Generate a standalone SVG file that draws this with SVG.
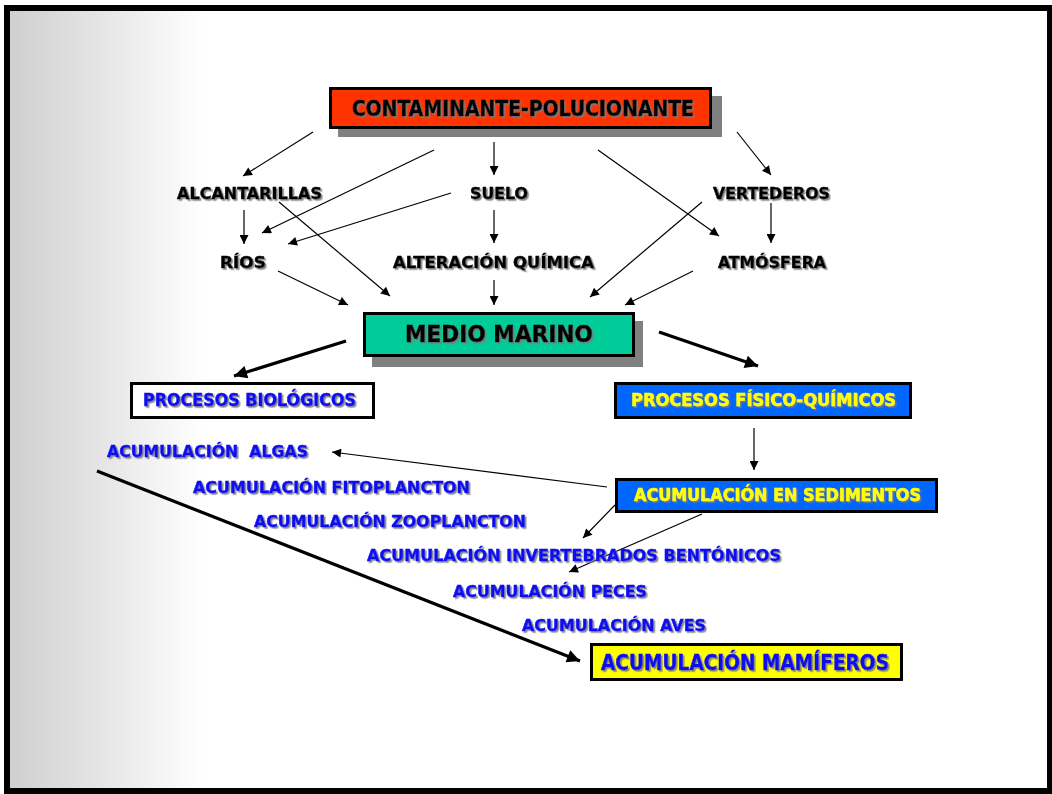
<svg xmlns="http://www.w3.org/2000/svg" width="1052" height="794" viewBox="0 0 1052 794">
<defs>
<linearGradient id="bg" gradientUnits="userSpaceOnUse" x1="10" y1="0" x2="205" y2="0">
<stop offset="0" stop-color="#cfcfcf"/>
<stop offset="1" stop-color="#ffffff"/>
</linearGradient>
<filter id="sh" x="-5%" y="-30%" width="110%" height="160%">
<feDropShadow dx="1.6" dy="1.6" stdDeviation="0.7" flood-color="#7a7a7a" flood-opacity="0.9"/>
</filter>
<marker id="a" viewBox="0 0 10 10" refX="10" refY="5" markerWidth="11" markerHeight="9" markerUnits="userSpaceOnUse" orient="auto">
<path d="M0,0 L10,5 L0,10 z" fill="#000"/>
</marker>
<marker id="b" viewBox="0 0 10 10" refX="10" refY="5" markerWidth="16" markerHeight="13" markerUnits="userSpaceOnUse" orient="auto">
<path d="M0,0 L10,5 L0,10 z" fill="#000"/>
</marker>
</defs>
<style>
.t{font-family:"DejaVu Sans Condensed","DejaVu Sans","Liberation Sans",sans-serif;font-stretch:condensed;font-weight:bold;filter:url(#sh);stroke-width:0.45}
.k{fill:#000;stroke:#000}
.bl{fill:#0a0af0;stroke:#0a0af0}
.ye{fill:#ffff00;stroke:#ffff00}
.box{stroke:#000;stroke-width:3}
.shd{fill:#808080}
.c{stroke:#000;stroke-width:1.2;fill:none;marker-end:url(#a)}
.c3{stroke:#000;stroke-width:3.2;fill:none;marker-end:url(#b)}
</style>
<rect x="10" y="11" width="1037" height="778" fill="url(#bg)"/>
<rect x="7" y="8" width="1043" height="783" fill="none" stroke="#000" stroke-width="6"/>

<g id="connectors">
<line class="c" x1="313" y1="132" x2="243" y2="176"/>
<line class="c" x1="434" y1="150" x2="262" y2="233"/>
<line class="c" x1="494" y1="142" x2="494" y2="175"/>
<line class="c" x1="598" y1="150" x2="719" y2="236"/>
<line class="c" x1="737" y1="132" x2="771" y2="175"/>
<line class="c" x1="244" y1="210" x2="244" y2="244"/>
<line class="c" x1="279" y1="202" x2="390" y2="296"/>
<line class="c" x1="451" y1="193" x2="288" y2="244"/>
<line class="c" x1="494" y1="210" x2="494" y2="243"/>
<line class="c" x1="771" y1="203" x2="771" y2="243"/>
<line class="c" x1="702" y1="202" x2="590" y2="297"/>
<line class="c" x1="278" y1="271" x2="348" y2="305"/>
<line class="c" x1="494" y1="280" x2="494" y2="305"/>
<line class="c" x1="693" y1="271" x2="625" y2="305"/>
<line class="c3" x1="346" y1="341" x2="234" y2="376"/>
<line class="c3" x1="659" y1="332" x2="758" y2="366"/>
<line class="c3" x1="97" y1="471" x2="580" y2="661" stroke-width="4"/>
<line class="c" x1="754" y1="428" x2="754" y2="470"/>
<line class="c" x1="607" y1="487" x2="332" y2="452"/>
<line class="c" x1="615" y1="505" x2="583" y2="538"/>
<line class="c" x1="702" y1="514" x2="569" y2="572"/>
</g>

<g id="contaminante">
<rect class="shd" x="338" y="96" width="384" height="41"/>
<rect class="box" x="330.5" y="88.5" width="380" height="39" fill="#ff3300"/>
<text class="t k" x="352" y="116" font-size="20.5" textLength="342" lengthAdjust="spacingAndGlyphs">CONTAMINANTE-POLUCIONANTE</text>
</g>
<g id="alcantarillas"><text class="t k" x="177" y="199" font-size="16.2" textLength="145" lengthAdjust="spacingAndGlyphs">ALCANTARILLAS</text></g>
<g id="suelo"><text class="t k" x="470" y="199" font-size="16.2" textLength="58" lengthAdjust="spacingAndGlyphs">SUELO</text></g>
<g id="vertederos"><text class="t k" x="713" y="199" font-size="16.2" textLength="117" lengthAdjust="spacingAndGlyphs">VERTEDEROS</text></g>
<g id="rios"><text class="t k" x="220" y="268" font-size="16.2" textLength="46" lengthAdjust="spacingAndGlyphs">RÍOS</text></g>
<g id="alteracion"><text class="t k" x="393" y="268" font-size="16.2" textLength="201" lengthAdjust="spacingAndGlyphs">ALTERACIÓN QUÍMICA</text></g>
<g id="atmosfera"><text class="t k" x="718" y="268" font-size="16.2" textLength="108" lengthAdjust="spacingAndGlyphs">ATMÓSFERA</text></g>

<g id="medio-marino">
<rect class="shd" x="372" y="321" width="271" height="46"/>
<rect class="box" x="364.5" y="313.5" width="269" height="42" fill="#00cc99"/>
<text class="t k" x="405" y="342" font-size="22.5" textLength="188" lengthAdjust="spacingAndGlyphs">MEDIO MARINO</text>
</g>

<g id="procesos-biologicos">
<rect class="box" x="131.5" y="383.5" width="242" height="34" fill="#ffffff"/>
<text class="t bl" x="143" y="406" font-size="17.5" textLength="213" lengthAdjust="spacingAndGlyphs">PROCESOS BIOLÓGICOS</text>
</g>

<g id="procesos-fisico-quimicos">
<rect class="box" x="615.5" y="383.5" width="295" height="34" fill="#0066ff"/>
<text class="t ye" x="631" y="406" font-size="17.5" textLength="265" lengthAdjust="spacingAndGlyphs">PROCESOS FÍSICO-QUÍMICOS</text>
</g>

<g id="sedimentos">
<rect class="box" x="616.5" y="479.5" width="320" height="32" fill="#0066ff"/>
<text class="t ye" x="634" y="501" font-size="17" textLength="287" lengthAdjust="spacingAndGlyphs">ACUMULACIÓN EN SEDIMENTOS</text>
</g>

<g id="algas"><text class="t bl" x="107" y="457" font-size="16.6" textLength="201" lengthAdjust="spacingAndGlyphs" xml:space="preserve">ACUMULACIÓN  ALGAS</text></g>
<g id="fitoplancton"><text class="t bl" x="193" y="493" font-size="16.6" textLength="277" lengthAdjust="spacingAndGlyphs">ACUMULACIÓN FITOPLANCTON</text></g>
<g id="zooplancton"><text class="t bl" x="254" y="527" font-size="16.6" textLength="272" lengthAdjust="spacingAndGlyphs">ACUMULACIÓN ZOOPLANCTON</text></g>
<g id="invertebrados"><text class="t bl" x="367" y="561" font-size="16.6" textLength="414" lengthAdjust="spacingAndGlyphs">ACUMULACIÓN INVERTEBRADOS BENTÓNICOS</text></g>
<g id="peces"><text class="t bl" x="453" y="597" font-size="16.6" textLength="194" lengthAdjust="spacingAndGlyphs">ACUMULACIÓN PECES</text></g>
<g id="aves"><text class="t bl" x="522" y="631" font-size="16.6" textLength="184" lengthAdjust="spacingAndGlyphs">ACUMULACIÓN AVES</text></g>

<g id="mamiferos">
<rect class="box" x="591.5" y="644.5" width="310" height="35" fill="#ffff00"/>
<text class="t bl" x="601" y="670" font-size="21.5" textLength="288" lengthAdjust="spacingAndGlyphs">ACUMULACIÓN MAMÍFEROS</text>
</g>
</svg>
